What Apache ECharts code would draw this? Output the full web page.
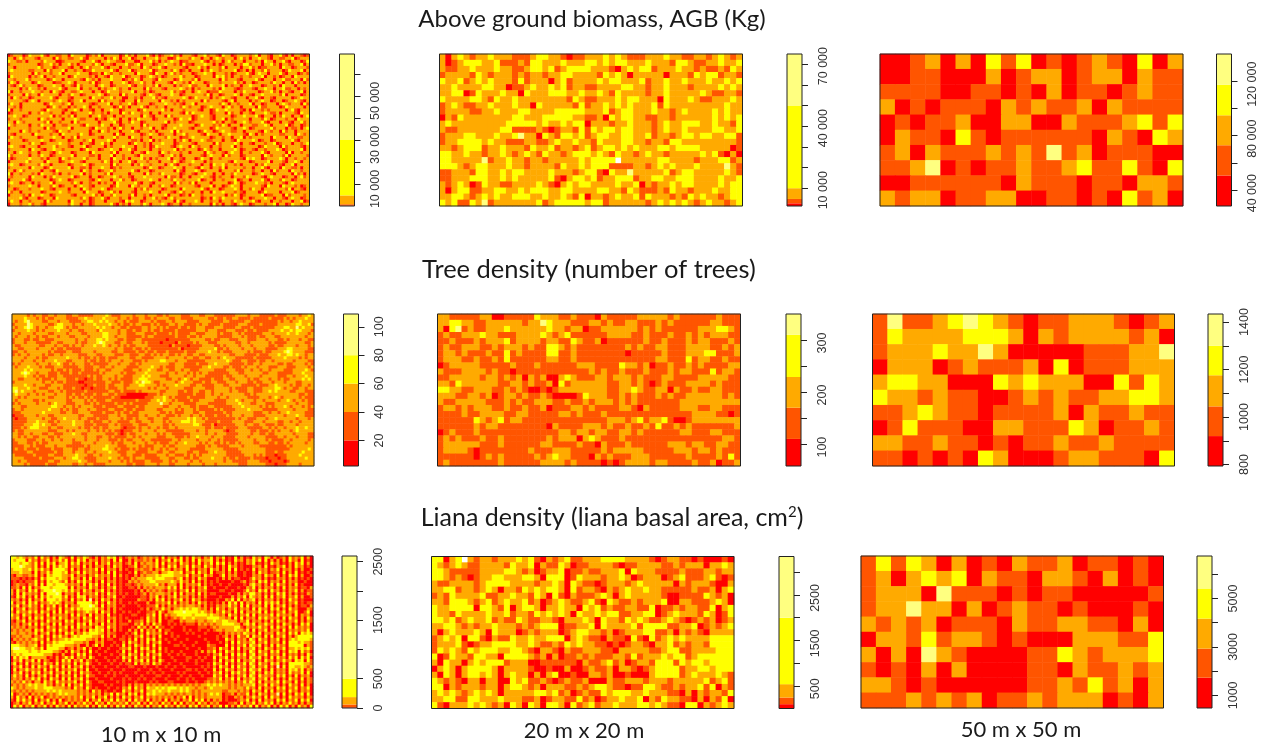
<!DOCTYPE html>
<html><head><meta charset="utf-8">
<style>html,body{margin:0;padding:0;background:#fff}#c{width:1263px;height:744px}</style>
<script src="https://cdn.jsdelivr.net/npm/echarts@6/dist/echarts.min.js"></script>
</head><body><div id="c"></div>
<script>
// Class codes: 0 red, 1 dark orange, 2 orange, 3 yellow, 4 pale yellow, - no data.
// 50 m panels are read cell by cell from zooms. 20 m panels are estimates anchored on the cells
// that could be located. 10 m cells are too small to read one by one: those rows are hand-typed
// estimates of the colour mix and visible patches, NOT a cell-accurate transcription.
const agb50 = [
"00120 20313 01012 10302","00110 00201 22012 20211","11110 01101 02011 01211","20101 11021 21120 21111","01011 20022 00211 12313",
"02110 31011 11110 21032","12021 11212 14120 11100","11240 10112 11231 13103","00111 11102 11101 10221","21220 11220 01101 03120"];
const tree50 = [
"14112 34321 01122 21012","13222 23332 02122 22120","12223 22420 00001 11224","02220 12111 20301 11222","23322 00032 32220 03132",
"32212 11001 21211 22332","11232 11011 11202 11211","01311 10022 11132 01121","22112 11010 11211 21111","11010 10320 00122 11103"];
const liana50 = [
"13132 02010 21120 11010","12023 23021 10221 02010","12220 41110 10110 00001","12242 20201 21101 00010","21212 01110 21122 11020",
"02213 12210 10002 22113","20204 21000 01132 12223","10102 02000 01102 11212","22101 00000 01121 31202","11121 21201 12122 20102"];
const agb20 = [
"2023212232 2211123322 1011222323 2111222322 1122123212",
"2012333223 1112133222 3222332323 3222322213 3211223223",
"2112232223 2211233231 2333322210 2323312223 2212112132",
"1222213212 2212122122 3322221323 2022222022 2132331221",
"3223123232 2213122202 3122223233 2223122322 3222322323",
"2232222332 2011232232 3122112222 3322122322 2122223232",
"2233013222 3220322233 3223223213 2222122322 2223211221",
"3222233213 2232222222 2132112223 2332220322 2321122232",
"1232112232 2232203222 2213122323 2322231322 2222222322",
"1222211223 2223322223 3333222312 3322232212 3222232322",
"0213222222 2233222333 3322112032 3322112212 2222232323",
"2322222222 2333332322 3233022212 2322212322 3332232213",
"2112222222 3311112101 2213132332 3322212322 3222233223",
"1222332223 2234220321 3323123322 3322312212 3323322331",
"1223333232 2111221123 2232213222 3322122133 2222222221",
"2212333122 3222132231 2212312332 3232223323 3332222201",
"3322322122 3212321322 1233323213 2212322122 2223231020",
"3322222412 2322122122 222323333- 2222223322 2212223312",
"3332123322 2322122221 3223233311 1122123232 2232222421",
"1122213322 3233222232 2212331032 2422222312 3322222321",
"1122233322 3232222231 0233231223 3312233223 3322223223",
"2123201322 1122223210 2323322223 2230212232 3322223233",
"2023311223 3223233322 3322223322 1321112132 2122232233",
"2233212323 2233322322 3213022123 2231322212 1323221233",
"3231132412 2222223123 3333233122 2222123232 3212322123"];
const tree20 = [
"2211111220 0111113222 1121110211 1112222212 1111112111",
"2233221122 2222122432 2211122121 1221112121 1111122111",
"2034121122 2322222232 2122011222 2221212111 1112223321",
"1211222322 1112222321 2311111122 2211211121 1212122211",
"1121112122 2312222122 1132112011 1111211211 1212211121",
"1211222112 1222121133 2121111111 1212112211 1222211212",
"1221211121 1312111133 1121111111 1011111211 1222331112",
"1222112112 1311111122 1121111111 1111112211 1312211211",
"0122222111 1121112111 1112221111 3221201121 1212111122",
"2111222212 1101111111 1111121211 2111211121 2211131221",
"1122222122 1212021200 2321112212 2212111221 1112222211",
"2213222222 1122121120 3122222211 2212101211 1222212111",
"3322112221 1212100101 2222222211 2232112202 1121122111",
"2221122120 1221211210 0001322211 2121112121 1222222121",
"2112222211 1212112221 1211212221 2121111111 2222222222",
"1221212221 1211211201 1122121111 2210211111 2221122111",
"1111211222 2112211111 2212111211 1111111111 1122221101",
"1111113212 3122111111 1111111122 2123122310 0122222222",
"1111112122 1111111102 1111222121 1211213112 1211111112",
"0121112111 1111111111 2212212211 2212111111 2211122111",
"1212111211 2111111121 2220232111 2111111111 1111111221",
"1222222111 2111111221 1112110211 1211111122 2122112211",
"1222210111 1111121112 2211111212 2222111112 2212212111",
"1111110121 2111112123 2211102121 1122211111 1211112131",
"1211111111 2111111222 2121111010 1222212211 1121120112"];
const liana20 = [
"33023-2122 1222323102 1231122233 3322221012 2110100010",
"3212321122 2213223021 1320112222 1011222211 2122202232",
"3321111122 2233212012 2301121122 2303222111 1211122122",
"3321210122 3322233203 3301322212 2320122201 2311123101",
"2112222123 3332222122 3203211012 2212322222 0212221002",
"2233122123 2022132323 3203122102 1232232211 1112112023",
"1213222231 1223221320 3102111232 0232222210 0111132120",
"2213332123 1232231201 2321123103 2112122230 0221112320",
"3223333033 2130233202 2322032312 1122113011 2122113023",
"3221322223 2231221323 2320322323 3112233012 3222132013",
"3323123223 1211321122 1022232032 2132321123 2101212012",
"2233212122 3222121233 3011223032 2223133331 1223012123",
"2023222320 3222012122 2012332212 0122233112 0212102222",
"1232303310 2113223223 3302321102 1103103123 2322223333",
"1222310122 3333223211 2132322110 1012210223 1212213333",
"1323213233 3223321022 1021122211 0222221123 3112222333",
"3013221332 2033332120 2011212111 2213122232 3312333333",
"2032202323 3312220011 1111021123 1201221333 1323323333",
"0232023333 2022221001 0020012112 0221012333 3122332333",
"2032023323 2023220202 3001002212 0010002333 3123222321",
"3212102202 2003231121 0121120002 1122212221 2222231231",
"3302122212 2023321202 2211212332 1101133211 2122313021",
"2323212323 2022222332 3120121132 3332232221 1020212213",
"2233113322 2322211201 2211312012 2322302132 2110202130",
"3102223232 1203203203 3203123122 3222332321 1033021232"];
const agb10 = [
"0122201322 2310221122 0322220121 3022222013 1202223102 0122312022 2102231221 0322012222 1230221022 3102022101",
"2202312221 0222203122 1122310222 2202132022 3012202223 1220013222 1322022023 2122202312 0223221022 1122301222",
"3221120222 2132220012 2222102231 0223221102 2200222312 0212322011 2222310212 2023122202 2212032202 2310222013",
"1222222222 0122312022 3120222213 2022102223 1123022201 2232212031 1022232202 0122202133 1222022312 0221122302",
"2202222222 3122201222 1022023122 2310222022 1222032122 3102222210 2223120222 1302222022 3120112222 0322012221",
"2322222112 2203122230 2212201132 2222310222 3012222301 2222132012 0222021322 1222230120 2022131222 2013222302",
"1222222203 1222122302 2223222011 2032122122 2203222103 2202312122 2012232202 2212012223 1023220222 3102220121",
"0322222021 2302212222 0132222120 2210322230 1222012321 2012222312 2201222203 2312022122 1222302212 0122032222",
"2212223122 2220132202 2222103212 0222322201 2132022210 3222201322 2130222222 0312221022 2231022202 2311222031",
"1320222201 3222201122 3202222130 1222022232 0122312202 2221032212 0322201222 1222231202 2012222132 2022031202",
"2102312222 0122232202 2103122220 2322012222 3102212213 0222202122 3112220322 2302122022 3222012212 0322202222",
"2222021322 1202222310 2223022122 0212232122 0222203122 2102222321 2021222212 0322210122 2102232202 2311220212",
"3022122232 2122032102 2112322202 2013222122 2302212012 2222312102 2023220111 3222202132 2220122312 0221022302",
"1222203122 0322222022 1322012222 3201222031 2222102321 0222322012 2222213022 0122232022 1022322222 1302222012",
"2032122012 2222310222 1022222032 2122312200 2212022231 2102222232 0132222021 2322102220 2231022102 2222012322",
"2222210232 0222212322 0122302222 0312222102 2203122222 0322120212 2222031222 2102302222 0212322012 2012232102",
"1322022222 2201322212 3022222101 2223022122 3102222012 2232212102 2302222222 1320221222 3022012220 2321222031",
"2212022222 2220132122 0212232022 1222201312 0222310221 2202222132 1222012322 2023122022 2203112222 0132222202",
"3022122222 2103222210 2232022102 2022322012 2220132222 2312022212 2221022013 2232222102 0322121222 2202310222",
"0122222022 1322122202 2012222312 2120222032 1322122022 0222222103 1322222012 2203122022 1022232112 0222210322",
"2232201222 2222302122 1302222022 3112202212 2222032102 2203122222 2012322102 2222012232 2231022202 1322022023",
"1222122222 0321222202 2232112220 2102322022 0213222201 2222201322 3012222102 2302122222 0222132012 2212203222",
"2203212222 2213022122 2031222222 0222231022 1322012222 2230212222 0122222231 2022102232 1222310222 0221022312",
"3212222022 1322202211 2222103222 1322022012 2222031222 2102222322 2201322212 1320222022 2112232022 2230122012",
"0222222122 2203112222 3022222103 2221202312 2022122302 2012232222 1022222013 2222102232 0122222312 2202112023",
"2222032122 1222210322 1222222022 0321222022 2310222120 2222303122 2220132201 2322112202 2221032122 0312202222",
"2102222203 2222122032 2221322012 2222203102 2222012322 0122202231 2222103222 0223222210 3202122222 1122203212",
"1322122222 0122232202 2130222222 1022231222 0322122022 2213222011 2322222012 2122022302 1222222032 2203221122",
"2222201222 2322012222 0122212302 2223202222 2112022302 1222202132 0222321122 2022103222 2320122012 2222310222",
"0222222132 2012222322 1222022102 2312022222 0132212022 2322201222 2102222203 1222232022 1022212230 1222022123",
"2322102222 0222231222 1022230122 2202122232 2202212013 2222102322 0321222022 1222302122 2220132222 0312222102",
"1222222032 2102232212 2222013222 0122322022 3102222022 1222230212 2220132122 0222232012 2102212223 2012222302",
"2202322122 0222102322 2012222032 2222130222 2022103222 0321222122 0222203212 2102322022 1222310222 2203022122",
"3122222022 1322012222 2302222112 0222302212 2210322222 1022312022 2222102322 2031222012 2222032122 2130222221",
"2012222322 2120222032 1222231222 0222032212 0222312021 2223022102 2201322022 1222222103 2322012222 3202212212",
"0222223122 2203222012 2322102222 2132022022 3102221222 0222132012 2322202122 2221032222 0122223022 2102232022",
"2322012222 1322022222 0122232012 2222031222 2021322122 2202310222 1222022032 2312212022 2202132222 1022302222",
"1222222032 2201322222 3022112022 2322012122 2222201322 0122232202 2210322022 1302222212 2022310222 0322112022",
"2202312222 2022103222 2222032122 0122312222 2310222012 2222203102 2232012222 0222213022 2122022031 2220322122",
"3022122212 0322212022 1222302122 2213022222 0222203122 1322222012 2102232202 2022132222 2012322102 2222031202",
"2122222032 2202132222 2301222022 0122232122 1022232222 2203112022 0222322102 1222022213 2222102322 2012202312",
"0222231022 2222012322 0122222102 3222022312 2012222322 0222132212 2223012202 2122230122 0222310222 1322012222",
"2322012202 1222302222 2132022122 0212203222 2231022102 2222203122 1302222022 2220132012 2232212022 2102322222",
"1222222322 0222132012 2202322102 2222013222 0321222022 1322012222 2210222302 2012322022 2222103222 0322212012",
"2201222122 2322102222 0222032122 2320122222 2202131222 2012222032 2222310222 0122232022 1322022222 2213022102",
"3122022222 2012222322 1222203222 0122312022 2102222322 0222102312 2122022032 2322212102 2220132222 0222301222",
"0222212032 2322012222 2102222231 2022132222 1302212022 2230222012 0322122222 2202132012 2222301122 2031222212",
"2222310222 0122203222 2222132012 2310222122 0222202231 2102312222 2222012032 1322222022 0122232202 2102322012",
"1322022122 2203122222 0322212012 2202222103 2322012222 1222203102 2232022122 0222132212 2310222022 1222022301",
"0222122312 2102222222 1322022012 2222310212 0222132022 2320122022 1222222031 2022102322 0122212230 2201322122"];
const tree10 = [
"2222212122 1122122211 2211111222 2321112222 1222122211 2122221112 2211222111 1111222212 2211111211 1222212232",
"2222322212 1211222211 1122322222 3222212212 1122112122 2211221111 2222211211 2112211112 1111121111 2121222322",
"2122342222 1122212221 1112233223 2322122121 1122221211 1221222211 1122221111 2211111221 1111111121 2212232222",
"1222243222 2211233222 1221222322 2232212112 1221112121 1122122111 1212211112 1111122211 1121111122 2222332231",
"2122343212 2122333212 1122222232 3221221121 1112212212 1211121121 1222111222 1111221112 1111111222 3322423222",
"1222232212 1222232221 2211222213 2222212211 2112212112 1111211111 1222122211 1222111211 2111122223 2232332221",
"2212222122 2211222212 2221122222 3322212211 1222111211 1121211112 2111222212 1112212111 1112221222 2322322212",
"2122212212 1122212221 1222212222 3322122211 1112122111 1111211121 1212222211 1112221211 1211222112 2222222122",
"1222112112 2111222222 2122122233 2322211211 1221111111 1011111112 2222112112 2211122211 1222122211 2122212211",
"1222122211 1112211222 2121122234 3222112211 2221211110 1111021111 2122211122 2222112212 2222212111 1222222112",
"2112222221 1222122112 1221222322 3212212121 1222211111 1102111101 1112222112 1222212221 2222211211 2222122212",
"2211222212 2221211211 1112222222 2222122111 2112121111 1111120111 1122222311 2122221222 1222111122 2332222211",
"1122122222 2212111122 1112222122 2221122111 1211211211 1211111211 1222232212 1112222212 1112112222 3432222111",
"1212212222 1211221222 2211122211 2222111221 1122112121 2211212211 2211222222 2211222111 1211122232 2332322122",
"2222122212 1122222232 2212112121 1211122221 1221111222 2122222122 1122112212 3222111111 2111112222 3222212122",
"2221222122 1222322211 2222121121 1212221222 1112122223 3222122211 1111222222 2321112211 1211221222 2221222211",
"1212222212 2212232112 1222112111 1122212221 1212222222 2211222111 1211122322 2211111211 2212222211 2112222121",
"2122232221 2111222111 1122111221 1221222211 1122223221 2111222111 1112232222 1121112122 2122211122 2111222212",
"2222323222 2221211212 1112111212 2112222111 2212232211 2211221221 1122222111 1222111221 2212212222 1112222321",
"2223432212 2211121112 1121111112 1222221211 1222322222 2122122212 1212211111 1122211222 2221122211 1112223222",
"2222322121 1211122111 1111121211 2222122111 2223232221 1122222122 1222111111 2112222122 2212222211 1221222322",
"2211222212 1112122211 1211011211 2212121111 2233322222 2112212321 2211112111 2211222212 1122212212 1122223232",
"1222222222 1221211211 1100111111 1221112111 2324332112 2222123222 1112112211 1222122211 2112221222 1222112222",
"2222322122 2112222111 1111011211 1211222112 2233222212 1222322221 1221111222 1122221111 1211122322 2212112212",
"3322232221 1122212111 2110110111 1211122122 2222212122 2122222111 2222111222 2212111122 1112222332 1221122122",
"3423222122 2211221211 1111211111 1122112111 1212222221 1222211211 2211221222 2212211122 1112232322 2211222111",
"2322212212 1222122211 2112111211 2211211100 0000011121 2222211111 2111221221 2222222112 1222222222 2222211211",
"2212122222 2211222212 1211212111 1112110000 0000111222 3212111121 1111222212 2122222211 1122212321 2222212111",
"2122222112 1222222211 2222121211 1221111111 1211112232 3221211112 1122222111 1222321222 1221222212 2321221211",
"1212222212 2212322211 1222112121 1111211212 1111122224 2212222111 1222211111 1222232221 1222111222 2222122211",
"2221122222 2223322122 1212222111 2111122111 1211222222 1122212221 1211122111 1112223222 2212121222 3212221212",
"1221222222 2232221212 1122212211 1122111211 2111222211 2222121222 1211111212 1111222232 2221111122 2221222211",
"1112222222 3222221122 1122221111 2111212112 1122222221 1212111222 1122111111 2112222222 1112212212 2322222111",
"0111222212 2211222222 2211222111 1122212211 1122122212 2111212221 2212111211 1212221222 1111222222 1222322111",
"1011122222 1221122322 2212211121 1122221211 2122211222 1122222232 3221211111 1111212211 1222122322 2222122212",
"1111122232 2211212222 3222112111 2212211112 2112221222 1212223332 3222111121 1112222111 2221222211 2212212222",
"1111222332 3221122222 3222111211 1122121111 2211122222 1121222222 3321112011 1111222122 1122111211 2222122222",
"1112123332 2212211222 2212112112 1122221011 1212212212 1122122222 2222112111 2111122211 1112212122 1222322322",
"1211222222 2211122212 1222212212 1212110111 2212222122 2111111222 2122122222 1011222221 1211121212 2212322222",
"2211221222 1122111222 3221122222 2111210121 1222122212 1221111112 2222122122 2111122221 2211211222 2221222211",
"2212122112 2211212222 2222122211 2212111122 1212222211 1222111212 2322221222 1111222212 2222111122 1222122211",
"1222211122 1221221222 1222122212 2211121211 2221221111 1112212222 2122212212 1111122222 1222121111 2212222212",
"1122211212 1122222222 1112222122 2221211222 1222122121 1122122322 2212122112 1211212222 1122211211 2122222122",
"1111221211 1222122211 1111212222 2322211122 2212111222 1211222222 2111212211 1122221222 2211111111 1212222222",
"1211211121 1112111222 1122112222 3322121112 1211121221 2122122221 1111222222 1111122222 2222111111 1122222232",
"1111122111 1111211222 1222122122 2232211122 2111122211 2211222211 2211122322 2111112222 2222111211 2222223222",
"2111111211 1122111222 2322211221 2222221122 1112111122 2122111212 1212222222 2111111222 1212111011 1222232222",
"2222111112 1111222122 3322111122 2232212112 1222111112 2211222112 1122223222 1211211112 1111011101 1222222322",
"2212211111 1122112222 2232211122 2212221212 1111221111 2212122221 2212222222 1221111122 2211101111 0122222222",
"2222121111 1211122222 1122122111 1222222211 2111222212 2211222212 2221222122 2222211122 2222111011 1222212222"];
const liana10 = [
"3323212130 3120203210 3021321020 2132302012 1201212120 3021203020 3120213021 3010302010 3120320201 2031213020",
"3233303120 2130213130 2031302120 2120303002 0211212030 2130313020 3031223020 2010312021 3130302020 2031203010",
"3332332130 3031302230 3130212030 2130212012 0302122130 3021203120 2030213031 3020201021 3010203120 1020313020",
"3334322130 2030313230 2120302021 2020312001 1301212130 2031302130 3120312020 2031201000 2120301021 3020312010",
"2333223131 3120333320 3020212130 3021202010 0212112021 3120212030 2021203120 2030301010 3021202130 2120202001",
"2223222030 2131333230 2130312120 2030301001 0301211220 2233223021 3031203011 2020200100 2031201120 3020301010",
"1022112130 2032333221 3021202131 2120302010 0202122232 3333222130 2120312001 3021200100 2120312030 2031302001",
"1110101020 3133323220 3120303021 2020201010 2122233233 3222123020 2031200010 2020110001 3120201021 2020201010",
"0101011130 2032332130 2031312020 3021201002 1212223322 2223213120 3020201010 0001001201 2031302120 3021200100",
"0121102130 3033233321 2120303130 2030201011 0121222231 2022203021 2130201001 0010000102 3120203031 2020301000",
"1120303021 3332333330 3021203120 2021301001 1020212122 2131303020 2021300100 0100010021 3020212020 3021201102",
"2031203130 2333433231 3120312021 3020201000 0102021212 1021202130 3021200001 1001000131 2031303120 2021302011",
"2030312120 3033343021 2030212130 2031201010 0101202122 2120303021 2030201100 0010020213 3120202031 3020201021",
"1031302030 3132333130 2032302120 2021300100 0001102130 2021302120 2020200001 0002021303 2120303021 3021302001",
"2120203021 3033323120 3021304020 3120201000 0021102031 3020213020 3120100010 0213030212 3020212020 2031201000",
"3021303130 2123232021 2033333130 2031201001 0100020021 2130302120 2031201010 2031303021 2030313130 2021301011",
"2130213120 3021302030 2123334320 3021200100 0010011130 2021212122 2120201021 2131203030 2120303021 3020201102",
"3021302120 2031203021 3132333231 2020201000 0001020121 3120223232 3321202031 2021302120 3031203130 2031200021",
"2031213130 3120303031 2021232130 3120200101 0010011203 1022333433 3323212021 3120303021 2130302021 3021300130",
"3120312021 2030212120 3031203021 2030101000 1100021303 0212233333 2333323221 2031202130 3021213031 2120302120",
"2130203031 3021303120 2120312031 2021201010 0001031203 0101212322 3222233332 2120303021 2031312120 3031202031",
"1021302120 2031212031 3020213021 2030201002 0112031203 0011002122 2122122322 3322202130 2120203031 2021302021",
"1120213030 3120303021 2031303120 3021201110 0213020312 0010101011 1021212122 3333220231 3021312020 3120203130",
"2121202120 2031202130 3031212032 2031201000 1031202031 1001000100 0011101212 2222331021 2131203031 2030312120",
"1212122031 3021303120 2120203232 3020201002 0203021203 0110000101 0010010122 1222322130 3021302120 3021212130",
"2212212130 2130202031 3021323332 2021100010 1302031212 0201000010 1000100001 0212121321 2030212031 2031303232",
"1121222021 3020313120 2323333221 3020200101 0213020203 0001010000 0010000010 1202031130 3120303021 3020233333",
"0212121231 2030212232 3333322120 2011001102 0302031302 0100100010 0000100010 0312021203 2031202130 2023233332",
"1021212120 3021323333 3222120021 2000100203 1202030213 0010001000 0100010001 0203031212 3021302120 3033323221",
"3332212230 2032333322 2120020130 2001010302 0312020302 0000110100 1000021100 0302021303 2130203031 2033333021",
"3443322321 3033332201 2021302001 0010001213 0203130203 0100000010 0010011203 1203030212 3020312021 3022323231",
"2333332332 3333221020 3120203010 0100010302 0302021302 0101001000 0102021302 0312020203 2031203130 2032303120",
"2232333333 3222010200 2031302001 0001001203 1203030213 0010010100 0100010213 0203031302 3021302120 3021202031",
"0313230222 2201020131 3021203100 0100010312 0302120302 0001000011 0010100302 1302021203 2130203031 2031303130",
"0213021303 0210020313 0213021010 0010100203 0213030203 1000100010 0101000203 0213030212 3020312021 3120323031",
"1302030212 0312030212 0302131001 0001001011 0302120312 0010001000 0100010312 0302021303 2031203130 2033333221",
"0213020303 1203120303 0213020100 0100010001 1000100010 0100100100 0001010203 1203031202 3021302040 3033223212",
"0302131212 0302030212 1302030010 0001000100 0010001001 0001000011 0100100302 0312021303 2130203021 2032313021",
"0213020313 0213021303 0203121001 0010101000 0100010100 1000010100 0010010213 0203131202 3020313021 2031213030",
"1312030202 1302030212 0302031100 0100100010 0001000011 0010001001 0001000312 0302021303 2031212031 3020302120",
"1212021313 0203120303 0213020010 0001000101 0010100100 0100010010 1000011213 0213030212 3021303020 2031203021",
"2121312022 0312031212 1302031001 1000010100 0100001010 0011000010 0100121212 1212021313 2030212130 3120302021",
"1212123232 2312021303 0213021000 0101000102 0212021212 1212121212 1212232323 2212121222 3021303120 2031203020",
"3212122232 2333222212 0312031010 0010010213 0312032232 3233323232 2122123222 2212122131 2030212031 3021302130",
"2121212122 2232323222 2212120312 0100100312 0213022323 2232223232 1212222222 1122212120 3120303021 2031202120",
"3012120212 1212123232 2212121212 0213031203 1302032322 2121212122 1212123232 0112021130 2031202140 3020313030",
"2031203021 3012121212 1213021302 1302020312 0213021212 1212021303 0212122222 0100212021 3120303120 2031212021",
"1031312030 2130203012 1212030213 0213031203 0312030212 0302120213 0313020212 0100012130 2030212031 3021303130",
"0120213021 3021302130 2021312031 2031212130 2130203120 3120303021 2031202120 0011203021 3021313020 2131202021",
"0313021302 1302031203 0312130203 1302031302 0312030213 0312031203 1302130213 0302031213 0302130203 1302031203"];

const classColors = ['#FF0000','#FF5500','#FFAA00','#FFFF00','#FFFF80'];

const agb10Breaks = [0,150,800,4800,30000,69000], agb10Ticks = [10000,20000,30000,40000,50000,60000], agb10Labels = [10000,30000,50000];
const agb20Breaks = [1400,2700,4800,10000,50000,74900], agb20Ticks = [10000,20000,30000,40000,50000,60000,70000], agb20Labels = [10000,40000,70000];
const agb50Breaks = [28400,50800,73000,95000,117500,140000], agb50Ticks = [40000,60000,80000,100000,120000], agb50Labels = [40000,80000,120000];
const tree10Breaks = [2,20,40,60,80,109], tree10Ticks = [20,40,60,80,100], tree10Labels = [20,40,60,80,100];
const tree20Breaks = [58,110,170,229,310,350], tree20Ticks = [100,150,200,250,300], tree20Labels = [100,200,300];
const tree50Breaks = [794,920,1045,1176,1300,1434], tree50Ticks = [800,900,1000,1100,1200,1300,1400], tree50Labels = [800,1000,1200,1400];
const liana10Breaks = [0,10,60,186,500,2597], liana10Ticks = [0,500,1000,1500,2000,2500], liana10Labels = [0,500,1500,2500];
const liana20Breaks = [0,95,241,536,2000,3346], liana20Ticks = [500,1000,1500,2000,2500,3000], liana20Labels = [500,1500,2500];
const liana50Breaks = [477,1730,2930,4170,5415,6757], liana50Ticks = [1000,2000,3000,4000,5000,6000], liana50Labels = [1000,3000,5000];

const panels = [
 {rows:agb10,cols:100,nr:50,b:agb10Breaks,t:agb10Ticks,l:agb10Labels,x:7.5,y:54,w:302,h:152,bx:339.5,sep:true,shift:5},
 {rows:agb20,cols:50,nr:25,b:agb20Breaks,t:agb20Ticks,l:agb20Labels,x:439.5,y:54,w:303,h:152,bx:787,sep:true,shift:2},
 {rows:agb50,cols:20,nr:10,b:agb50Breaks,t:agb50Ticks,l:agb50Labels,x:880,y:54,w:303,h:152,bx:1216.5,sep:true,shift:3},
 {rows:tree10,cols:100,nr:50,b:tree10Breaks,t:tree10Ticks,l:tree10Labels,x:12,y:314,w:302,h:152,bx:343.5,shift:0},
 {rows:tree20,cols:50,nr:25,b:tree20Breaks,t:tree20Ticks,l:tree20Labels,x:437.5,y:314,w:303,h:152,bx:786,shift:3},
 {rows:tree50,cols:20,nr:10,b:tree50Breaks,t:tree50Ticks,l:tree50Labels,x:872.5,y:314,w:302,h:152,bx:1208,shift:0},
 {rows:liana10,cols:100,nr:50,b:liana10Breaks,t:liana10Ticks,l:liana10Labels,x:10.5,y:556,w:302.5,h:152,bx:342,shift:0},
 {rows:liana20,cols:50,nr:25,b:liana20Breaks,t:liana20Ticks,l:liana20Labels,x:431.5,y:556.5,w:302.5,h:152,bx:779,shift:3},
 {rows:liana50,cols:20,nr:10,b:liana50Breaks,t:liana50Ticks,l:liana50Labels,x:861,y:556,w:302.5,h:152,bx:1197,shift:0}
];
const titleFont = 'Lato, "Open Sans", sans-serif';
const headings = [
 {text:'Above ground biomass, AGB (Kg)',left:592,top:7,size:24},
 {text:'Tree density (number of trees)',left:589,top:257,size:25.5},
 {text:'Liana density (liana basal area, cm{s|2})',left:612,top:505,size:25},
 {text:'10 m x 10 m',left:161,top:724,size:22},
 {text:'20 m x 20 m',left:584,top:720,size:22},
 {text:'50 m x 50 m',left:1021,top:719,size:22}
];

const grid=[],xAxis=[],yAxis=[],series=[],visualMap=[];
const fmt = v => String(v).replace(/\B(?=(\d{3})+$)/g,' ');
panels.forEach((p)=>{
  const g = grid.length;
  grid.push({left:p.x,top:p.y,width:p.w,height:p.h,show:true,z:5,backgroundColor:'transparent',borderColor:'#222',borderWidth:1});
  xAxis.push({type:'category',gridIndex:g,show:false,data:Array.from({length:p.cols},(_,i)=>i)});
  yAxis.push({type:'category',gridIndex:g,show:false,inverse:true,data:Array.from({length:p.nr},(_,i)=>i)});
  const data=[];
  p.rows.forEach((r,ry)=>{
    const s=r.replace(/ /g,'');
    for(let cx=0;cx<s.length&&cx<p.cols;cx++){
      const c=s[cx]; if(c==='-')continue;
      const k=+c; data.push([cx,ry,(p.b[k]+p.b[k+1])/2]);
    }
  });
  const si=series.length;
  series.push({type:'heatmap',xAxisIndex:g,yAxisIndex:g,data,progressive:0,animation:false,silent:true,z:2});
  visualMap.push({show:false,seriesIndex:si,type:'piecewise',dimension:2,
    pieces:classColors.map((color,i)=>({gte:p.b[i],lt:p.b[i+1],color}))});
  // colour bar
  const h = grid.length;
  grid.push({left:p.bx,top:p.y,width:15,height:p.h,show:true,z:5,backgroundColor:'transparent',borderColor:'#222',borderWidth:1});
  xAxis.push({type:'category',gridIndex:h,show:false,data:['bar']});
  yAxis.push({type:'value',gridIndex:h,position:'right',min:p.b[0],max:p.b[5],splitLine:{show:false},
    axisLine:{show:false},
    axisTick:{show:true,length:6,lineStyle:{color:'#222',width:1},customValues:p.t},
    axisLabel:{show:true,rotate:90,margin:15,fontSize:12.5,color:'#333',fontFamily:'"Liberation Sans",Arial,sans-serif',
      customValues:p.l,formatter:v=>p.sep?fmt(v):String(v),padding:[0,p.shift*2,0,0]}});
  classColors.forEach((color,i)=>{
    series.push({type:'bar',xAxisIndex:h,yAxisIndex:h,stack:'k'+h,barWidth:'100%',silent:true,animation:false,
      data:[i===0?p.b[1]:p.b[i+1]-p.b[i]],itemStyle:{color},z:2});
  });
});
const chart=echarts.init(document.getElementById('c'));
chart.setOption({animation:false,backgroundColor:'#fff',
  title:headings.map(t=>({text:t.text,left:t.left,top:t.top,textAlign:'center',padding:0,
    textStyle:{fontFamily:titleFont,fontSize:t.size,fontWeight:'normal',color:'#1a1a1a',
      rich:{s:{fontFamily:titleFont,fontSize:15,verticalAlign:'top',color:'#1a1a1a',padding:[0,0,9,0]}}}})),
  grid,xAxis,yAxis,series,visualMap});
</script></body></html>
